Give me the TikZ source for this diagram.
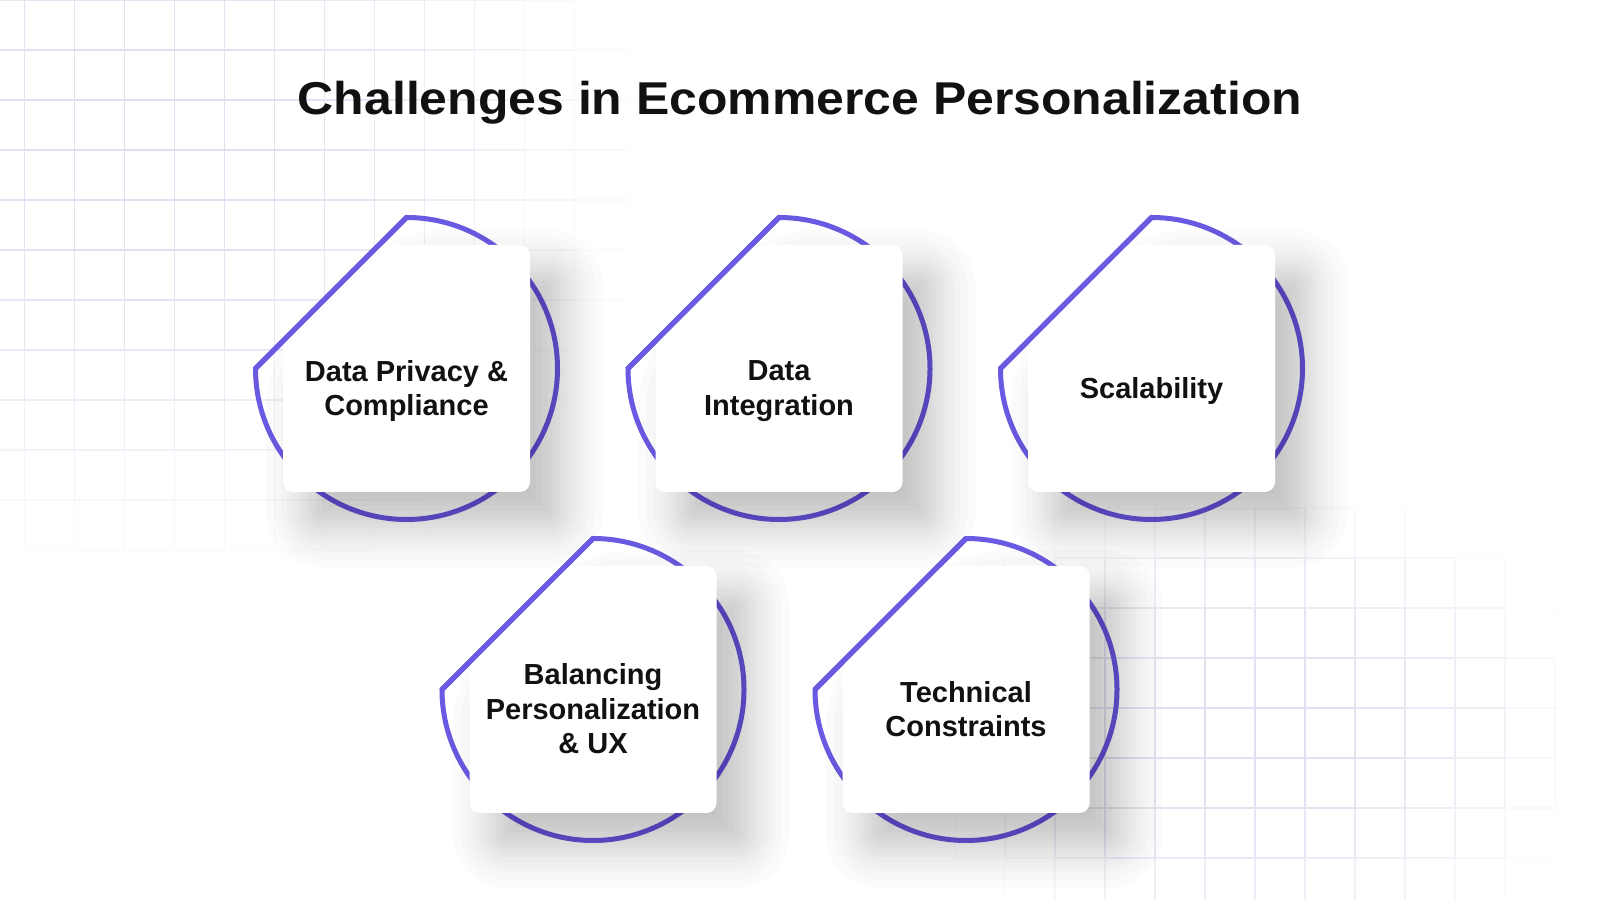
\documentclass[tikz,border=0pt]{standalone}
\usepackage{fontspec}
\setmainfont{Liberation Sans}
\usepackage{graphicx}
\definecolor{ring}{HTML}{6A5AE2}
\definecolor{gridc}{HTML}{E0DEF0}
\definecolor{ink}{HTML}{111111}
\tikzset{
  ringline/.style={draw=ring, line width=5pt, line join=miter},
  chordline/.style={draw=ring, line width=5pt, line cap=butt},
  cardfill/.style={fill=white, rounded corners=10pt},
  shadowlayer/.style={fill=black, fill opacity=0.017},
  gridline/.style={line width=1.3pt},
  cardtext/.style={font=\bfseries\fontsize{29}{34.5}\selectfont, text=ink, align=center, inner sep=0pt},
  titletext/.style={font=\bfseries\fontsize{46}{55}\selectfont, text=ink, inner sep=0pt},
}
\newcommand\lnph{\vphantom{Hg}}
\newcommand\gseg[8]{%
  \pgfmathsetmacro\gf{max(0,1-(((#1+#3)/2-#5)/#7)^2-(((#2+#4)/2-#6)/#8)^2)}%
  \pgfmathtruncatemacro\gp{min(100,100*\gf^1.5)}%
  \ifnum\gp>0\relax\draw[gridline, draw=gridc!\gp!white] (#1,899-#2) -- (#3,899-#4);\fi}
\newcommand\challengecard[4]{%
  \coordinate (#1) at (#2,#3);
  \begin{scope}[shift={(#2,#3)}]
    \draw[ringline] (0,151) -- (-151,0) arc[start angle=180, end angle=450, radius=151pt] -- cycle;
    \foreach \e in {-28,-22,-16,-11,-6,-2,2,6,10,14,19,24,30,37,45} {
      \pgfmathsetmacro\ec{-27.5-0.414*\e}
      \pgfmathsetmacro\ed{27.5+0.414*\e}
      \pgfmathsetmacro\ep{123.5+\e}
      \pgfmathsetmacro\em{-123.5-\e}
      \pgfmathsetmacro\rc{max(2,10+\e)}
      \fill[shadowlayer, rounded corners=\rc pt, shift={(28,-30)}]
        (\ec,\ep) -- (\ep,\ep) -- (\ep,\em) -- (\em,\em) -- (\em,\ed) -- cycle;
    }
    \fill[cardfill] (-27.5,123.5) -- (123.5,123.5) -- (123.5,-123.5) -- (-123.5,-123.5) -- (-123.5,27.5) -- cycle;
    \draw[chordline] (0,151) -- (-151,0);
    \node[cardtext] (#1-text) at (0,-22.5) {#4};
  \end{scope}}
\begin{document}
\begin{tikzpicture}[x=1pt,y=1pt]
\useasboundingbox (0,0) rectangle (1600,899);
\fill[white] (0,0) rectangle (1600,899);
% top-left grid
\foreach \i in {0,...,13}{\foreach \j in {0,...,12}{%
  \pgfmathsetmacro\gx{24.5+50*\i}\pgfmathsetmacro\gya{50*\j}\pgfmathsetmacro\gyb{50*\j+50}%
  \gseg{\gx}{\gya}{\gx}{\gyb}{150}{150}{540}{470}}}
\foreach \j in {0,...,13}{\foreach \i in {0,...,13}{%
  \pgfmathsetmacro\gxa{50*\i-25.5}\pgfmathsetmacro\gxb{50*\i+24.5}\pgfmathsetmacro\gy{50*\j}%
  \gseg{\gxa}{\gy}{\gxb}{\gy}{150}{150}{540}{470}}}
% bottom-right grid
\foreach \i in {-5,...,11}{\foreach \j in {0,...,9}{%
  \pgfmathsetmacro\gx{1055+50*\i}\pgfmathsetmacro\gya{458+50*\j}\pgfmathsetmacro\gyb{508+50*\j}%
  \gseg{\gx}{\gya}{\gx}{\gyb}{1250}{730}{370}{270}}}
\foreach \j in {0,...,9}{\foreach \i in {-5,...,11}{%
  \pgfmathsetmacro\gxa{1005+50*\i}\pgfmathsetmacro\gxb{1055+50*\i}\pgfmathsetmacro\gy{458+50*\j}%
  \gseg{\gxa}{\gy}{\gxb}{\gy}{1250}{730}{370}{270}}}
% title
\node[titletext, anchor=base] (title) at (800,784) {\scalebox{1.085}[1]{Challenges in Ecommerce Personalization}};
% cards
\challengecard{c1}{406.5}{530.5}{\lnph Data Privacy \&\\\lnph Compliance}
\challengecard{c2}{779}{530.5}{\lnph Data\\\lnph Integration}
\challengecard{c3}{1151.5}{530.5}{\lnph Scalability}
\challengecard{c4}{593}{209.5}{\lnph Balancing\\\lnph Personalization\\\lnph \& UX}
\challengecard{c5}{966}{209.5}{\lnph Technical\\\lnph Constraints}
\end{tikzpicture}
\end{document}
